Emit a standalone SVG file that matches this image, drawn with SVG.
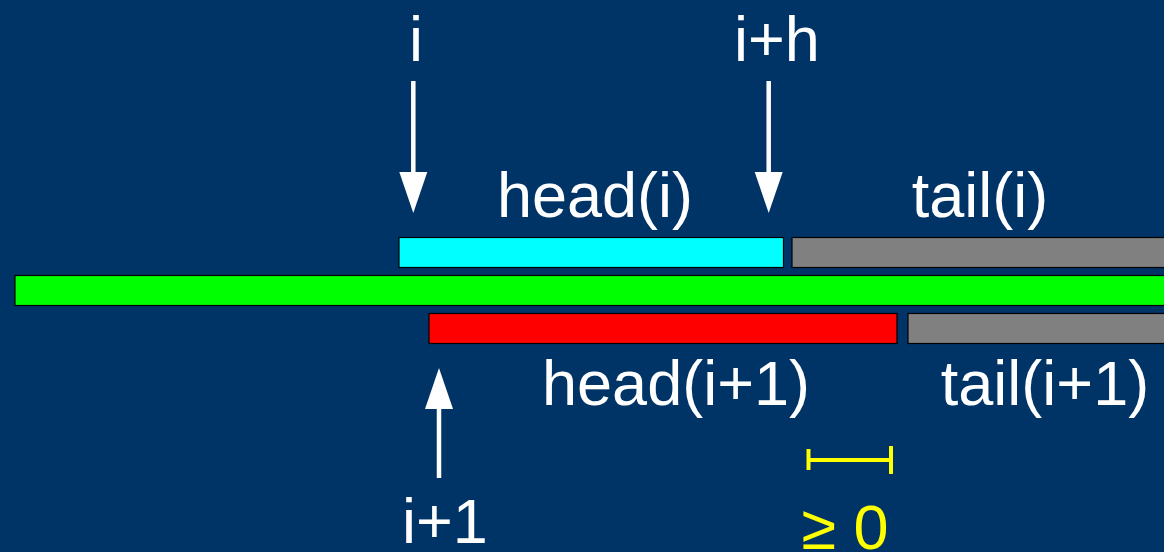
<svg xmlns="http://www.w3.org/2000/svg" width="1164" height="552" viewBox="0 0 1164 552">
<style>
.bg{fill:#003366}
.bar{stroke:#000;stroke-width:1.2}
.lbl{font-family:"Liberation Sans",Arial,sans-serif;font-size:63px;fill:#fff;text-anchor:middle}
.ylbl{font-family:"Liberation Sans",Arial,sans-serif;font-size:63px;fill:#ffff00;text-anchor:middle}
.shaft{stroke:#fff;stroke-width:4.5;fill:none}
.head{fill:#fff}
.yl{stroke:#ffff00;fill:none}
</style>
<rect class="bg" x="0" y="0" width="1164" height="552"/>
<g id="bar-main"><rect class="bar" x="15" y="275.5" width="1160" height="30" fill="#00ff00"/></g>
<g id="head-i"><rect class="bar" x="399" y="237.5" width="384.5" height="30" fill="#00ffff"/><text class="lbl" x="595" y="217">head(i)</text></g>
<g id="tail-i"><rect class="bar" x="792" y="237.5" width="380" height="30" fill="#808080"/><text class="lbl" x="980" y="217">tail(i)</text></g>
<g id="head-i1"><rect class="bar" x="429" y="313.5" width="468" height="30" fill="#ff0000"/><text class="lbl" x="676" y="405">head(i+1)</text></g>
<g id="tail-i1"><rect class="bar" x="908" y="313.5" width="264" height="30" fill="#808080"/><text class="lbl" x="1045" y="405">tail(i+1)</text></g>
<g id="label-i"><text class="lbl" x="416" y="61">i</text></g>
<g id="label-ih"><text class="lbl" x="777" y="61">i+h</text></g>
<g id="label-i1"><text class="lbl" x="445" y="543">i+1</text></g>
<g id="gap">
<path class="yl" d="M808.5 449 V470 M808.5 460 H891 M891 446 V474" stroke-width="4"/>
<text class="ylbl" x="845" y="549">≥ 0</text>
</g>
<g id="connectors">
<line class="shaft" x1="413.3" y1="81" x2="413.3" y2="175"/>
<polygon class="head" points="399.3,172 427.3,172 413.3,213"/>
<line class="shaft" x1="768.7" y1="81" x2="768.7" y2="175"/>
<polygon class="head" points="754.7,172 782.7,172 768.7,213"/>
<line class="shaft" x1="439" y1="478" x2="439" y2="405"/>
<polygon class="head" points="425,409 453,409 439,368"/>
</g>
</svg>
